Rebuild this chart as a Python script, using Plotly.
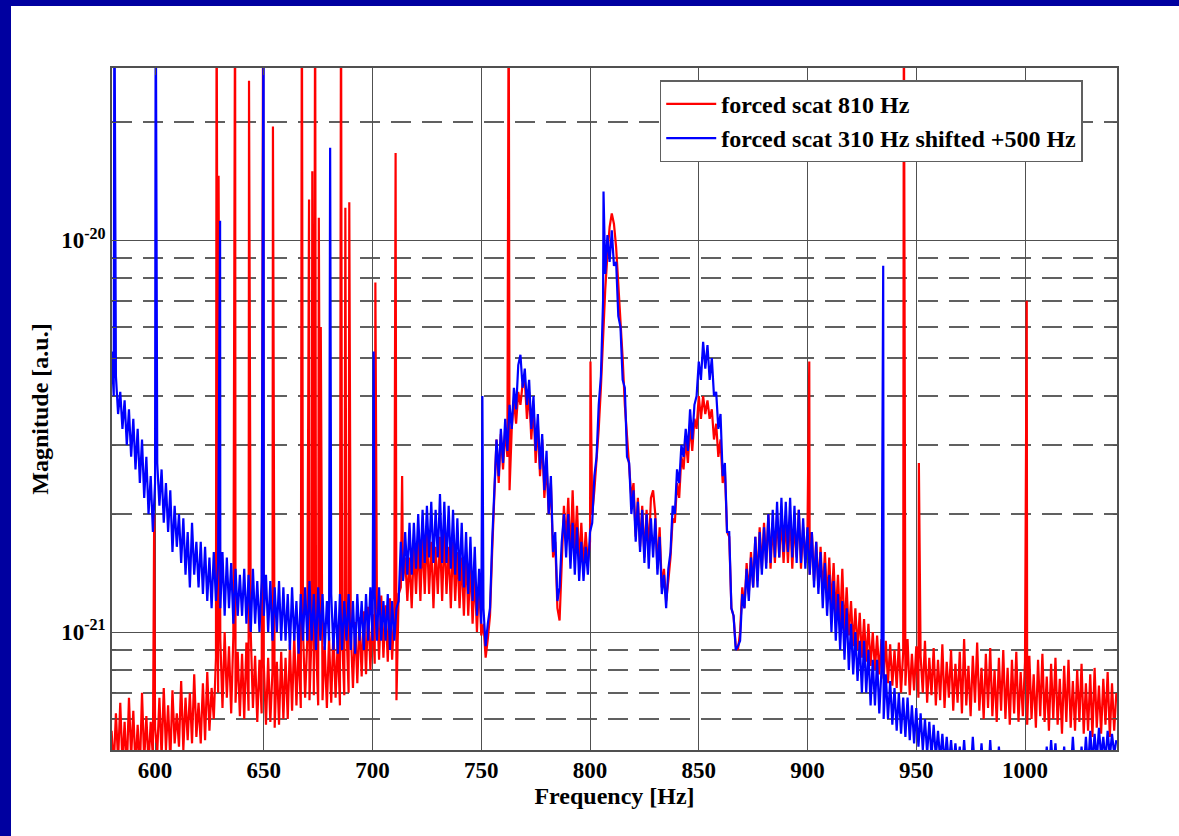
import plotly.graph_objects as go

# ---------------- data (values in units of 1e-22) ----------------
freq_start = 580  # Hz, 1 Hz spacing

blue_base = [
    52, 40, 45, 36, 41, 33, 39, 30, 37, 28,        # 580
    35, 26, 33, 24, 31, 22, 28, 20, 25, 18,        # 590
    24, 27, 21, 26, 19, 24, 18, 23, 16, 21,        # 600
    16.5, 20, 15, 19.5, 14, 18, 13, 19, 14, 17,    # 610
    13, 17, 12.5, 16.5, 12, 15.5, 11.5, 16, 12, 15,  # 620
    11.5, 16, 11, 15.5, 11.5, 15, 10.5, 14.5, 11, 14,  # 630
    11, 14.5, 10.5, 14, 10, 14.5, 10.5, 13.5, 10, 13.5,  # 640
    11, 14, 10, 13.5, 9.5, 13, 10, 13.5, 9.5, 13,  # 650
    9.5, 12.5, 9, 13, 9.5, 12, 8.8, 12.5, 9.5, 13,  # 660
    9.5, 13.5, 9.5, 12.5, 9, 13, 9.5, 12.5, 9, 12,  # 670
    9.5, 12.5, 9, 12, 8.8, 12.5, 9, 12, 9.5, 12.5,  # 680
    9, 12, 8.8, 12.5, 9.5, 12, 9, 12.5, 9.5, 13,   # 690
    9.5, 12.5, 9.5, 13, 9.5, 12, 9.5, 12.5, 9, 12,  # 700
    9.5, 11.5, 12, 17, 13.5, 18, 14, 19, 14, 19,   # 710
    14.5, 20, 14.5, 20.5, 15, 21, 15.5, 21.5, 15, 20.5,  # 720
    15.5, 22.5, 15, 21.5, 15, 21, 14.5, 20.5, 14, 19.5,  # 730
    13.5, 19, 13, 18, 12.5, 17.5, 12, 16.5, 11, 14.5,  # 740
    10.5, 11.5, 9.2, 10.5, 11.5, 17, 24, 31, 25, 33,  # 750
    27, 35, 29, 38, 33, 42, 37, 48, 51, 42,        # 760
    47, 38, 44, 33, 40, 29, 36, 26, 32, 23,        # 770
    29, 20, 25, 16, 18, 12, 13, 17, 20, 15.5,      # 780
    20, 14.5, 19, 14, 18.5, 13.5, 17, 13.5, 16.5, 14,  # 790
    18, 19, 25, 28, 38, 45, 70, 82, 103, 88,       # 800
    106, 86, 88, 64, 60, 44, 42, 28, 27, 20,       # 810
    23, 17, 21.5, 16, 20.5, 15, 20, 14.5, 19.5, 15.5,  # 820
    19.5, 14, 17.5, 12.5, 14, 11.5, 14.5, 16, 21, 20,  # 830
    26, 24, 30, 28, 33, 29, 37, 31, 38, 40,        # 840
    49, 44, 55, 47, 54, 44, 50, 40, 41, 33,        # 850
    36, 25, 27, 18, 18, 11.5, 11, 9, 9.2, 9.5,     # 860
    12.5, 11.5, 14.5, 12, 15.5, 13, 17.5, 13, 18, 14,  # 870
    18.5, 14.5, 20, 15, 20.5, 15.5, 21.5, 15.5, 22, 16,  # 880
    21.5, 16, 22, 15.5, 21, 15, 20.5, 15, 19.5, 14.5,  # 890
    18.5, 14, 18, 13, 17, 12.5, 16, 11.5, 15, 11,  # 900
    14, 10, 13.5, 9.5, 12.5, 9, 12, 8.5, 11.5, 8,  # 910
    10.5, 7.8, 10, 7.5, 9.5, 7, 9.5, 7, 9, 6.5,    # 920
    8.5, 6.5, 8.5, 6.2, 8, 6, 7.8, 6, 7.5, 5.8,    # 930
    7.2, 5.6, 7, 5.5, 6.8, 5.4, 6.8, 5.3, 6.5, 5.2,  # 940
    6.4, 5.1, 6.2, 5, 6, 4.9, 5.9, 4.8, 5.8, 4.8,  # 950
    5.6, 4.7, 5.5, 4.6, 5.4, 4.6, 5.3, 4.5, 5.2, 4.5,  # 960
    5.1, 4.4, 5.3, 4.4, 5.0, 4.3, 5.4, 4.4, 4.9, 4.3,  # 970
    5.2, 4.3, 4.9, 4.2, 5.3, 4.3, 4.8, 4.2, 5.1, 4.2,  # 980
    4.8, 4.2, 4.7, 4.1, 4.9, 4.2, 4.6, 4.1, 4.7, 4.1,  # 990
    4.6, 4.1, 4.8, 4.2, 4.6, 4.2, 4.9, 4.2, 5.0, 4.3,  # 1000
    5.1, 4.3, 5.3, 4.4, 5.2, 4.3, 4.9, 4.2, 5.1, 4.3,  # 1010
    5.0, 4.3, 5.4, 4.4, 4.9, 4.3, 5.1, 4.4, 5.4, 4.5,  # 1020
    5.6, 4.6, 5.5, 4.7, 5.7, 4.8, 5.4, 4.7, 5.6, 4.8,  # 1030
    5.5, 4.9, 5.3,                                  # 1040
]

red_base = [
    5.6, 4.5, 6.2, 4.7, 6.6, 4.6, 5.9, 4.4, 6.8, 4.8,  # 580
    6.3, 4.5, 5.8, 4.4, 7.0, 4.7, 6.1, 4.6, 5.9, 4.8,  # 590
    5.7, 4.9, 6.8, 4.8, 7.2, 5.0, 6.5, 4.7, 7.1, 5.2,  # 600
    6.2, 5.1, 7.5, 5.0, 6.8, 5.3, 7.0, 5.2, 7.8, 5.4,  # 610
    6.6, 5.2, 7.4, 5.3, 7.9, 5.6, 7.2, 6.0, 8.6, 7.0,  # 620
    9.6, 6.4, 10.0, 6.8, 9.2, 6.2, 9.8, 6.6, 8.9, 6.1,  # 630
    8.8, 6.0, 9.4, 6.3, 9.9, 6.4, 8.7, 5.9, 8.5, 6.2,  # 640
    8.3, 5.8, 8.6, 5.9, 8.0, 5.7, 8.4, 5.8, 8.9, 6.0,  # 650
    8.6, 6.0, 9.3, 6.3, 9.8, 6.5, 9.4, 6.4, 10.2, 6.8,  # 660
    9.6, 6.7, 10.0, 6.9, 9.4, 6.5, 9.9, 6.7, 9.2, 6.4,  # 670
    9.7, 6.6, 10.1, 6.8, 9.5, 6.5, 9.8, 6.9, 10.3, 7.0,  # 680
    10.0, 7.2, 10.6, 7.4, 10.9, 7.7, 11.3, 7.8, 11.6, 8.0,  # 690
    11.1, 8.3, 11.9, 8.5, 12.4, 8.6, 11.7, 8.4, 12.2, 8.5,  # 700
    11.3, 6.7, 12.5, 13.0, 13.5, 15.5, 12.0, 15.5, 11.5, 16.5,  # 710
    12.5, 17.0, 12.0, 17.5, 12.5, 18.0, 12.5, 17.0, 11.5, 16.5,  # 720
    12.5, 17.5, 12.0, 18.0, 12.5, 16.5, 11.5, 17.0, 12.0, 16.0,  # 730
    11.5, 15.5, 11.0, 16.0, 11.0, 15.0, 10.5, 14.0, 10.0, 13.5,  # 740
    9.8, 10.5, 8.6, 9.6, 11.0, 16.0, 23, 31, 24, 32,  # 750
    26, 33, 28, 23, 33, 39, 34, 41, 38, 43,        # 760
    44, 35, 41, 31, 38, 27, 34, 25, 31, 22,        # 770
    27, 20, 24, 15.5, 17, 11.5, 10.7, 15, 21, 17,  # 780
    22, 15.5, 23, 16, 21, 15, 19, 14.5, 18, 15,    # 790
    17, 20, 23, 27, 33, 42, 58, 75, 92, 108,       # 800
    117, 110, 96, 78, 62, 50, 38, 31, 27, 22,      # 810
    24, 17.5, 22, 16.5, 21, 15.5, 20.5, 16, 22, 23,  # 820
    20, 14.5, 18.5, 13, 14.5, 12.0, 13.5, 15.5, 19.5, 19,  # 830
    24, 22, 28, 26, 31, 27, 34, 29, 35, 33,        # 840
    40, 35, 40, 36, 39, 35, 37, 31, 34, 28,        # 850
    31, 24, 26, 18, 17.5, 11.5, 11, 9.2, 9.0, 10,  # 860
    13, 11.5, 15, 12.5, 16, 13, 17.5, 13.5, 18.5, 14.5,  # 870
    19, 15, 20, 14.5, 19, 15, 20, 15.5, 19.5, 15,  # 880
    19.5, 15, 20, 14.5, 19, 15.5, 20.5, 14.5, 18.5, 15,  # 890
    18.5, 14, 18, 13.5, 17, 13, 16.5, 12.5, 16, 12,  # 900
    15.5, 11.5, 15, 11, 14, 10.5, 14.5, 10, 13, 9.8,  # 910
    12, 9.2, 11.5, 9.0, 11.2, 8.6, 10.8, 8.4, 10.5, 8.2,  # 920
    10, 8.0, 9.8, 7.8, 9.6, 7.6, 9.5, 7.4, 9.3, 7.3,  # 930
    9.0, 7.2, 9.4, 7.0, 8.9, 7.3, 9.6, 6.9, 8.8, 7.1,  # 940
    9.2, 6.8, 8.7, 7.0, 9.5, 6.6, 8.6, 6.9, 9.1, 6.5,  # 950
    8.5, 6.7, 9.3, 6.4, 8.4, 6.8, 9.0, 6.3, 8.3, 6.6,  # 960
    8.9, 6.2, 9.6, 6.5, 8.2, 6.1, 8.7, 6.6, 9.4, 6.3,  # 970
    8.1, 6.0, 8.8, 6.4, 9.1, 6.1, 8.0, 5.9, 8.6, 6.3,  # 980
    9.0, 6.0, 8.1, 5.8, 8.5, 6.2, 8.9, 5.9, 7.9, 6.1,  # 990
    8.4, 5.8, 8.7, 6.0, 7.8, 5.7, 8.5, 6.1, 8.8, 5.9,  # 1000
    7.7, 5.6, 8.3, 6.0, 8.6, 5.8, 7.6, 5.5, 8.2, 5.9,  # 1010
    8.5, 5.7, 7.5, 5.6, 8.0, 5.9, 8.3, 5.5, 7.4, 5.6,  # 1020
    7.8, 5.4, 8.1, 5.7, 7.3, 5.5, 7.6, 5.8, 7.9, 5.4,  # 1030
    7.4, 5.6, 7.0,                                  # 1040
]

# narrow line peaks (frequency in Hz, height in units of 1e-22)
red_spike_freq = [599.6, 628.3, 629.2, 636.8, 643.2, 649.7, 654.2, 667.5, 670.8,
                  672.3, 673.6, 675.3, 676.2, 685.5, 687.5, 689.3, 701.3, 710.6,
                  713.6, 762.6, 800.2, 900.8, 944.3, 951.2, 1000.8]
red_spike_val = [20, 500, 146, 500, 255, 500, 195, 500, 127,
                 150, 500, 114, 60, 500, 121, 125, 78, 167,
                 25, 500, 49, 49, 500, 27, 70]

blue_spike_freq = [581.3, 600.3, 629.9, 649.9, 680.5, 700.5, 750.5, 806.2, 934.8]
blue_spike_val = [500, 500, 112, 500, 172, 52, 40, 133, 86]

x_tick_vals = [600, 650, 700, 750, 800, 850, 900, 950, 1000]
y_major_vals = [1e-21, 1e-20]
y_major_text = ["10<sup>-21</sup>", "10<sup>-20</sup>"]
y_minor_vals = [k * 10.0 ** e for e in (-22, -21, -20) for k in range(2, 10)]
series_names = ["forced scat 810 Hz", "forced scat 310 Hz shifted +500 Hz"]
x_title = "Frequency [Hz]"
y_title = "Magnitude [a.u.]"

UNIT = 1e-22


def build(base, sf, sv):
    pts = [(freq_start + i, v) for i, v in enumerate(base)]
    pts += list(zip(sf, sv))
    pts.sort(key=lambda p: p[0])
    return [p[0] for p in pts], [p[1] * UNIT for p in pts]


rx, ry = build(red_base, red_spike_freq, red_spike_val)
bx, by = build(blue_base, blue_spike_freq, blue_spike_val)

FONT = "Liberation Serif"
GRID = "#505050"

fig = go.Figure()
fig.add_trace(go.Scatter(x=rx, y=ry, mode="lines", name=series_names[0],
                         line=dict(color="#FF0000", width=2.2)))
fig.add_trace(go.Scatter(x=bx, y=by, mode="lines", name=series_names[1],
                         line=dict(color="#0000FF", width=2.2)))

tick_font = dict(family=FONT, size=23, color="black", weight="bold")
title_font = dict(family=FONT, size=24, color="black", weight="bold")

fig.update_layout(
    width=1179, height=836,
    margin=dict(l=112, r=62, t=68, b=86),
    paper_bgcolor="white", plot_bgcolor="white",
    showlegend=True,
    legend=dict(x=0.545, y=0.982, xanchor="left", yanchor="top",
                bgcolor="white", bordercolor="#606060", borderwidth=1.5,
                font=dict(family=FONT, size=24, color="black", weight="bold"),
                tracegroupgap=0, itemwidth=50),
    xaxis=dict(range=[580.2, 1042.3], tickvals=x_tick_vals,
               showgrid=True, gridcolor=GRID, gridwidth=1, zeroline=False,
               ticks="inside", ticklen=7, tickcolor=GRID,
               showline=True, linecolor=GRID, linewidth=1.5, mirror="ticks",
               tickfont=tick_font, ticklabelstandoff=-1,
               title=dict(text=x_title, font=title_font, standoff=1)),
    yaxis=dict(type="log", range=[-21.301, -19.5607],
               tickvals=y_major_vals, ticktext=y_major_text,
               showgrid=True, gridcolor=GRID, gridwidth=1.2, zeroline=False,
               ticks="inside", ticklen=7, tickcolor=GRID,
               showline=True, linecolor=GRID, linewidth=1.5, mirror="ticks",
               tickfont=tick_font,
               minor=dict(tickvals=y_minor_vals, showgrid=True, gridcolor="#606060",
                          griddash="20px,11px", gridwidth=1.5,
                          ticks="inside", ticklen=4, tickcolor=GRID),
               title=dict(text=y_title, font=title_font, standoff=6)),
    shapes=[
        dict(type="rect", xref="paper", yref="paper",
             x0=-0.2, x1=(11 - 112) / 1005, y0=-0.3, y1=1.3,
             fillcolor="#0000A0", line=dict(width=0), layer="above"),
        dict(type="rect", xref="paper", yref="paper",
             x0=-0.2, x1=1.3, y0=(750 - 6) / 682, y1=1.3,
             fillcolor="#0000A0", line=dict(width=0), layer="above"),
    ],
)

fig.write_html("out.html", config={"displayModeBar": False},
               post_script="document.body.style.margin='0';")
